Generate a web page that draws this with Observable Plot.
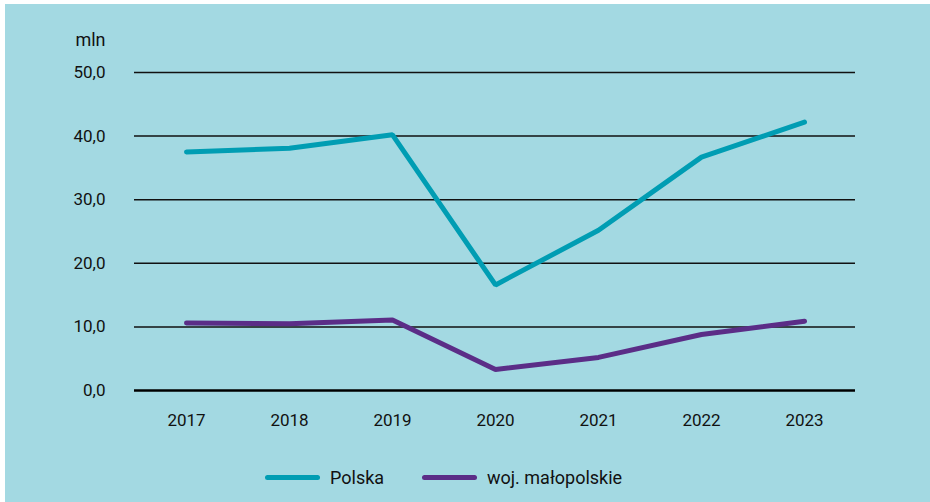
<!DOCTYPE html>
<html>
<head>
<meta charset="utf-8">
<script src="https://cdn.jsdelivr.net/npm/d3@7"></script>
<script src="https://cdn.jsdelivr.net/npm/@observablehq/plot@0.6"></script>
<style>
  html, body { margin: 0; padding: 0; background: #ffffff; }
  #wrap { position: absolute; left: 5px; top: 4px; width: 925px; height: 498px; background: #a3d9e2; font-family: Roboto, sans-serif; }
  #legend { position: absolute; left: 0; top: 458px; width: 925px; height: 30px; }
  .item { position: absolute; top: 0; height: 30px; display: flex; align-items: center; font-size: 18px; color: #111; }
  .swatch { width: 55px; height: 5px; border-radius: 3px; margin-right: 10px; }
</style>
</head>
<body>
<div id="wrap"><div id="chart"></div><div id="legend"></div></div>
<script>
const years = ["2017","2018","2019","2020","2021","2022","2023"];
const polska = [37.5, 38.1, 40.2, 16.6, 25.2, 36.7, 42.2];
const malopolskie = [10.6, 10.5, 11.1, 3.3, 5.2, 8.8, 10.9];
const seriesNames = ["Polska", "woj. małopolskie"];
const seriesColors = ["#009db3", "#5b2d87"];
const yTicks = [0, 10, 20, 30, 40, 50];

const data = [
  ...years.map((y, i) => ({year: y, value: polska[i], series: seriesNames[0]})),
  ...years.map((y, i) => ({year: y, value: malopolskie[i], series: seriesNames[1]}))
];

const chart = Plot.plot({
  width: 925,
  height: 440,
  marginLeft: 129,
  marginRight: 75,
  marginTop: 68,
  marginBottom: 54,
  style: {background: "transparent", fontFamily: "Roboto, sans-serif", fontSize: "17px", color: "#111"},
  x: {type: "point", domain: years, padding: 0.5, label: null},
  y: {domain: [0, 50], label: null},
  color: {domain: seriesNames, range: seriesColors},
  marks: [
    Plot.ruleY(yTicks.filter(d => d > 0), {stroke: "#111", strokeWidth: 1.5}),
    Plot.ruleY([0], {stroke: "#000", strokeWidth: 2.5}),
    Plot.axisX({tickSize: 0, tickPadding: 23, label: null, fontSize: 17}),
    Plot.axisY({ticks: yTicks, tickSize: 0, tickPadding: 29, label: null, tickFormat: d => d.toFixed(1).replace(".", ","), fontSize: 17}),
    Plot.text(["mln"], {frameAnchor: "top-left", textAnchor: "end", dx: -29, dy: -32, fontSize: 18, fill: "#111", lineAnchor: "middle"}),
    Plot.line(data, {x: "year", y: "value", z: "series", stroke: "series", strokeWidth: 5, strokeLinecap: "round", strokeLinejoin: "miter"})
  ]
});
document.getElementById("chart").appendChild(chart);

const legend = document.getElementById("legend");
const lefts = [260, 417];
seriesNames.forEach((name, i) => {
  const item = document.createElement("div");
  item.className = "item";
  item.style.left = lefts[i] + "px";
  const sw = document.createElement("div");
  sw.className = "swatch";
  sw.style.background = seriesColors[i];
  const label = document.createElement("span");
  label.textContent = name;
  item.appendChild(sw);
  item.appendChild(label);
  legend.appendChild(item);
});
</script>
</body>
</html>
